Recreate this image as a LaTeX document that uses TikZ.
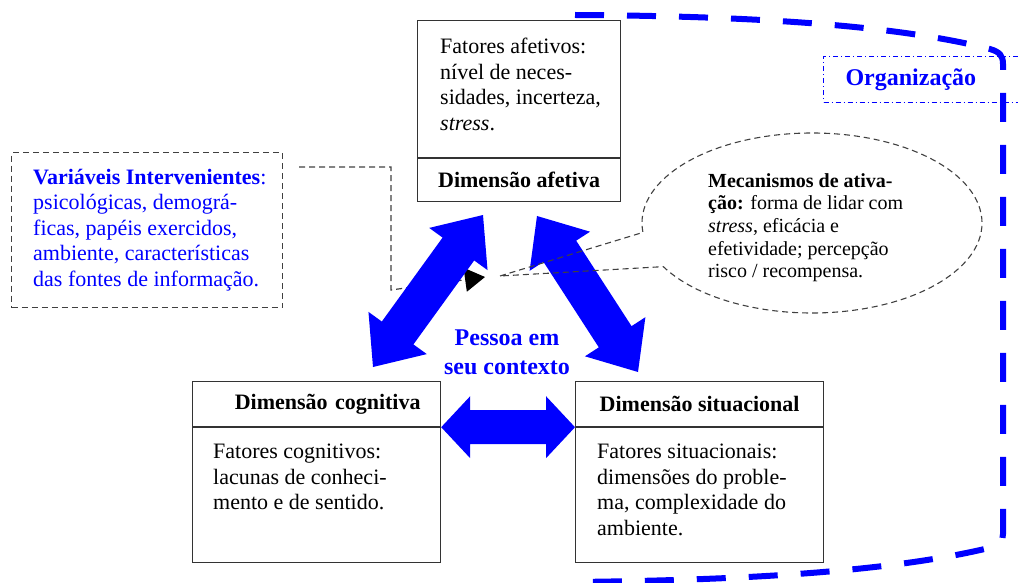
\documentclass[tikz,border=0pt]{standalone}
\usepackage{fontspec}
\setmainfont{Liberation Serif}
\usetikzlibrary{calc,arrows.meta,positioning}

\tikzset{
    dimbox/.style={draw=black!80, line width=1.2pt, inner sep=0pt},
    dimhead/.style={font=\fontsize{22}{25.5}\selectfont\bfseries},
    dimtext/.style={align=left, inner sep=0pt, font=\fontsize{22}{25.5}\selectfont},
    notebox/.style={draw=black!75, line width=1.2pt, dash pattern=on 6pt off 4pt},
    bluearrow/.style={fill=blue},
    orgline/.style={draw=blue, line width=6pt, dash pattern=on 29pt off 23pt}
}

\newcommand{\blockarrow}[5]{%
    \fill[bluearrow] (#1)
      -- ($(#1)!#3!(#2)!#4!90:(#2)$)
      -- ($(#1)!#3!(#2)!#5!90:(#2)$)
      -- ($(#2)!#3!(#1)!#5!-90:(#1)$)
      -- ($(#2)!#3!(#1)!#4!-90:(#1)$)
      -- (#2)
      -- ($(#2)!#3!(#1)!#4!90:(#1)$)
      -- ($(#2)!#3!(#1)!#5!90:(#1)$)
      -- ($(#1)!#3!(#2)!#5!-90:(#2)$)
      -- ($(#1)!#3!(#2)!#4!-90:(#2)$)
      -- cycle;}

\begin{document}
\begin{tikzpicture}[x=1pt,y=1pt]
    \useasboundingbox (0,0) rectangle (1018,582);

    \node[dimbox, minimum width=203pt, minimum height=137pt, anchor=north west] (afb) at (417,562) {};
    \node[dimbox, dimhead, minimum width=203pt, minimum height=43pt, anchor=north] (afh) at (afb.south) {Dimensão afetiva};
    \node[dimtext, anchor=north west] (aft) at ([shift={(23pt,-18pt)}]afb.north west)
      {Fatores afetivos:\\nível de neces-\\sidades, incerteza,\\\textit{stress}.};

    \node[dimbox, dimhead, minimum width=248pt, minimum height=45pt, text width=208pt, align=right, anchor=north west] (cogh) at (192,201) {Dimensão cognitiva};
    \node[dimbox, minimum width=248pt, minimum height=135pt, anchor=north] (cogb) at (cogh.south) {};
    \node[dimtext, anchor=north west] (cogt) at ([shift={(21pt,-17pt)}]cogb.north west)
      {Fatores cognitivos:\\lacunas de conheci-\\mento e de sentido.};

    \node[dimbox, dimhead, minimum width=248pt, minimum height=45pt, anchor=north west] (sith) at (575,201) {Dimensão situacional};
    \node[dimbox, minimum width=248pt, minimum height=135pt, anchor=north] (sitb) at (sith.south) {};
    \node[dimtext, anchor=north west] (sitt) at ([shift={(22pt,-17pt)}]sitb.north west)
      {Fatores situacionais:\\dimensões do proble-\\ma, complexidade do\\ambiente.};

    \node[notebox, inner sep=0pt, minimum width=271pt, minimum height=155pt, anchor=north west] (varb) at (11,430) {};
    \node[dimtext, text=blue, anchor=north west] (vart) at ([shift={(22pt,-17pt)}]varb.north west)
      {\textbf{Variáveis Intervenientes}:\\psicológicas, demográ-\\ficas, papéis exercidos,\\ambiente, características\\das fontes de informação.};

    \coordinate (bend) at (391,292);
    \coordinate (focus) at (485,305);
    \draw[notebox, -{Triangle[length=20pt,width=24pt,color=black]}]
      ([shift={(16pt,-15pt)}]varb.north east) -| (bend) -- (focus);

    \coordinate (l1) at (373,215);
    \coordinate (l2) at (483,367);
    \coordinate (r1) at (537,366);
    \coordinate (r2) at (638,210);
    \blockarrow{l1}{l2}{42pt}{36pt}{19.5pt}
    \blockarrow{r2}{r1}{42pt}{36pt}{19.5pt}
    \blockarrow{cogh.south east}{sith.south west}{29pt}{31pt}{17pt}

    \node[font=\fontsize{24}{29}\selectfont\bfseries, text=blue, align=center] (pessoa) at (507,230) {Pessoa em\\seu contexto};

    \coordinate (bub) at (812,359);
    \coordinate (tail) at (500,306);
    \draw[notebox, line width=1.1pt] (tail) -- ($(bub)+(186:170pt and 90pt)$)
      arc[start angle=186, end angle=-151, x radius=170pt, y radius=90pt] -- cycle;
    \node[align=left, inner sep=0pt, font=\fontsize{20}{22.7}\selectfont, anchor=north west] (mech) at (708,409)
      {\textbf{Mecanismos de ativa-}\\\textbf{ção:} forma de lidar com\\\textit{stress}, eficácia e\\efetividade; percepção\\risco / recompensa.};

    \node[draw=blue, line width=1pt, dash pattern=on 5pt off 3pt on 1pt off 3pt, text=blue,
      font=\fontsize{24}{28}\selectfont\bfseries, inner xsep=22pt, inner ysep=0pt, text width=156pt, align=left,
      minimum height=46pt, anchor=north west] (org) at (823,526) {Organização};

    \draw[orgline] (575,567) .. controls (760,566) and (900,556) .. (990,533)
      .. controls (1000,530) and (1003,526) .. (1003,518) -- (1003,48)
      .. controls (1003,42) and (1000,38) .. (993,35)
      .. controls (900,12) and (760,2) .. (575,0);
\end{tikzpicture}
\end{document}
